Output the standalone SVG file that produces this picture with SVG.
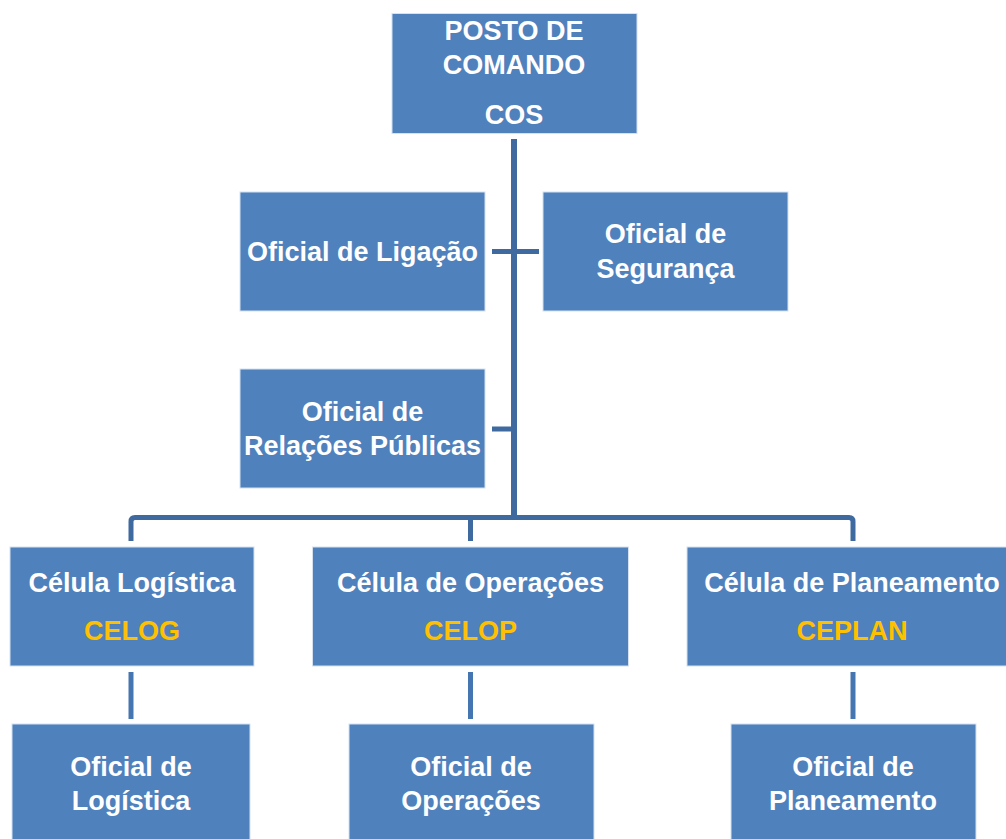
<svg xmlns="http://www.w3.org/2000/svg" width="1006" height="839" viewBox="0 0 1006 839">
<style>
.box{fill:#4F81BD;stroke:#d6e1ef;stroke-width:1}
.t{font-family:"Liberation Sans",Arial,sans-serif;font-weight:bold;font-size:27px;fill:#ffffff;text-anchor:middle}
.y{fill:#FFC000}
.c{stroke:#3F6A9F;stroke-width:5;fill:none}
.c2{stroke:#4676B1;stroke-width:5;fill:none}
</style>
<rect width="1006" height="839" fill="#ffffff"/>
<g id="connectors">
<line class="c" x1="514" y1="139" x2="514" y2="520" style="stroke-width:6"/>
<line class="c" x1="492" y1="251.5" x2="539" y2="251.5"/>
<line class="c" x1="492" y1="429" x2="514" y2="429"/>
<path class="c" d="M131 541 V521.5 Q131 517.5 135 517.5 H849 Q853 517.5 853 521.5 V541"/>
<line class="c" x1="470.5" y1="517.5" x2="470.5" y2="541"/>
<line class="c2" x1="131" y1="672" x2="131" y2="719"/>
<line class="c2" x1="470.5" y1="672" x2="470.5" y2="719"/>
<line class="c2" x1="853" y1="672" x2="853" y2="719"/>
</g>
<g id="posto">
<rect class="box" x="392" y="13.5" width="245" height="120"/>
<text class="t" x="514" y="40">POSTO DE</text>
<text class="t" x="514" y="74">COMANDO</text>
<text class="t" x="514" y="124">COS</text>
</g>
<g id="ligacao">
<rect class="box" x="240" y="192" width="245" height="119"/>
<text class="t" x="362.5" y="261">Oficial de Ligação</text>
</g>
<g id="seguranca">
<rect class="box" x="543" y="192" width="245" height="119"/>
<text class="t" x="665.5" y="243">Oficial de</text>
<text class="t" x="665.5" y="278">Segurança</text>
</g>
<g id="relacoes">
<rect class="box" x="240" y="369" width="245" height="119"/>
<text class="t" x="362.5" y="421">Oficial de</text>
<text class="t" x="362.5" y="455">Relações Públicas</text>
</g>
<g id="celog">
<rect class="box" x="10" y="547" width="244" height="119"/>
<text class="t" x="132" y="592">Célula Logística</text>
<text class="t y" x="132" y="640">CELOG</text>
</g>
<g id="celop">
<rect class="box" x="312.5" y="547" width="316" height="119"/>
<text class="t" x="470.5" y="592">Célula de Operações</text>
<text class="t y" x="470.5" y="640">CELOP</text>
</g>
<g id="ceplan">
<rect class="box" x="687" y="547" width="325" height="119"/>
<text class="t" x="852" y="592">Célula de Planeamento</text>
<text class="t y" x="852" y="640">CEPLAN</text>
</g>
<g id="of-logistica">
<rect class="box" x="12" y="724" width="238" height="120"/>
<text class="t" x="131" y="776">Oficial de</text>
<text class="t" x="131" y="810">Logística</text>
</g>
<g id="of-operacoes">
<rect class="box" x="349" y="724" width="245" height="120"/>
<text class="t" x="471" y="776">Oficial de</text>
<text class="t" x="471" y="810">Operações</text>
</g>
<g id="of-planeamento">
<rect class="box" x="731" y="724" width="245" height="120"/>
<text class="t" x="853" y="776">Oficial de</text>
<text class="t" x="853" y="810">Planeamento</text>
</g>
</svg>
